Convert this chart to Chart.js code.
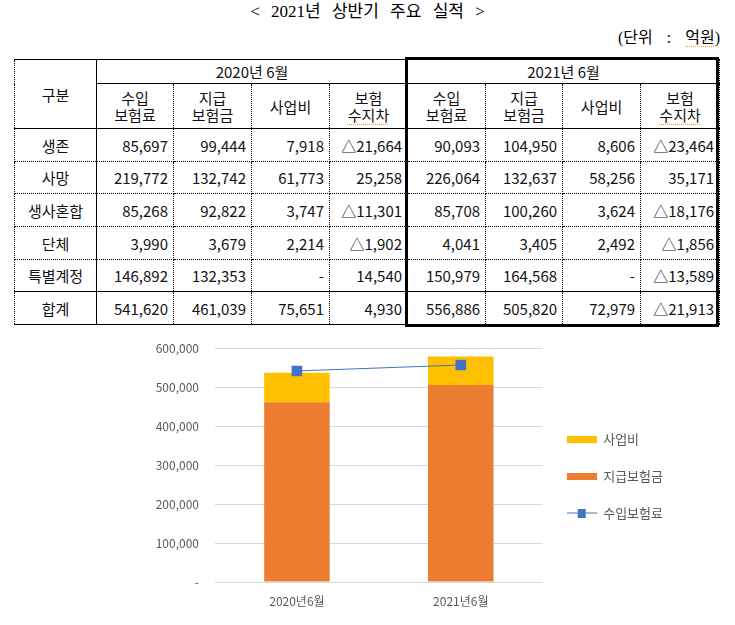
<!DOCTYPE html>
<html><head><meta charset="utf-8">
<script src="https://cdn.jsdelivr.net/npm/chart.js@4/dist/chart.umd.min.js"></script>
<style>
body{margin:0;background:#fff;width:735px;height:625px;position:relative;overflow:hidden;font-family:"Noto Sans CJK KR",sans-serif;color:#000;}
#title{position:absolute;left:0;width:735px;top:0px;text-align:center;font-family:"Liberation Serif","Noto Sans CJK KR",serif;font-size:17px;line-height:24px;word-spacing:7px;}
#unit{position:absolute;right:15px;top:27px;font-size:16px;line-height:22px;word-spacing:10px;font-family:"Liberation Serif","Noto Sans CJK KR",serif;}
.sq1{text-decoration:underline dotted #f09a30;text-decoration-thickness:1px;text-underline-offset:3px;}
.sq2{text-decoration:underline dotted #f09a30;text-decoration-thickness:1px;text-underline-offset:3px;}
#tbl{position:absolute;left:14px;top:59px;border-collapse:collapse;table-layout:fixed;width:705px;font-size:15px;color:#111;}
#tbl td{border:1px dotted #000;padding:0 5px 0 0;text-align:right;white-space:nowrap;overflow:hidden;}
#tbl td.h{text-align:center;padding:0;line-height:17px;}
#tbl td.lab{text-align:center;padding:0;border-right:1px solid #000;}
#tbl tr.hdr1 td{border-bottom:1px solid #000;border-top:1px solid #000;}
#tbl tr.hdr2 td{border-bottom:1px solid #000;}
#tbl tr.total td{border-top:1px solid #000;border-bottom:1px solid #000;}
#tbl td.split{border-left:1px solid #000;}
#box{position:absolute;left:405px;top:57px;width:314px;height:270px;border:3px solid #000;box-sizing:border-box;pointer-events:none;}
#chartWrap{position:absolute;left:130px;top:336px;width:600px;height:278px;}
</style>
</head><body>
<div id="title">&lt; 2021년 상반기 주요 실적 &gt;</div>
<div id="unit">(단위 : <span class="sq1">억원</span>)</div>
<table id="tbl"></table>
<div id="box"></div>
<div id="chartWrap"><canvas id="c" width="600" height="278"></canvas></div>
<script>
// ---- data ----
const rowLabels   = ['생존', '사망', '생사혼합', '단체', '특별계정', '합계'];
const periods     = ['2020년 6월', '2021년 6월'];
const colHeaders  = [['수입', '보험료'], ['지급', '보험금'], ['사업비'], ['보험', '수지차']];
const premium2020 = [85697, 219772, 85268, 3990, 146892, 541620];
const claims2020  = [99444, 132742, 92822, 3679, 132353, 461039];
const expense2020 = [7918, 61773, 3747, 2214, null, 75651];
const balance2020 = [-21664, 25258, -11301, -1902, 14540, 4930];
const premium2021 = [90093, 226064, 85708, 4041, 150979, 556886];
const claims2021  = [104950, 132637, 100260, 3405, 164568, 505820];
const expense2021 = [8606, 58256, 3624, 2492, null, 72979];
const balance2021 = [-23464, 35171, -18176, -1856, -13589, -21913];
const chartCategories = ['2020년6월', '2021년6월'];
const seriesNames = ['지급보험금', '사업비', '수입보험료'];
const yTicks = [0, 100000, 200000, 300000, 400000, 500000, 600000];

// ---- table ----
const fmt = v => v == null ? '-' : (v < 0 ? '△' + Math.abs(v).toLocaleString('en-US') : v.toLocaleString('en-US'));
const colWidths = [82, 77, 78, 78, 78, 78, 77, 78, 79];
const rowHeights = [24, 45, 33, 32, 33, 33, 32, 33];
const tbl = document.getElementById('tbl');
let html = '<colgroup>' + colWidths.map(w => `<col style="width:${w}px">`).join('') + '</colgroup>';
html += `<tr class="hdr1" style="height:${rowHeights[0]}px"><td class="h lab" rowspan="2" style="border-bottom:1px solid #000">구분</td>`;
periods.forEach((p, i) => { html += `<td class="h${i ? ' split' : ''}" colspan="4">${p}</td>`; });
html += '</tr>';
html += `<tr class="hdr2" style="height:${rowHeights[1]}px">`;
periods.forEach((p, pi) => {
  colHeaders.forEach((h, i) => {
    const txt = h.map((t, k) => (i === 3 && k === 1) ? `<span class="sq2">${t}</span>` : t).join('<br>');
    html += `<td class="h${(pi && i === 0) ? ' split' : ''}">${txt}</td>`;
  });
});
html += '</tr>';
const cols = [premium2020, claims2020, expense2020, balance2020, premium2021, claims2021, expense2021, balance2021];
rowLabels.forEach((lab, r) => {
  html += `<tr${lab === '합계' ? ' class="total"' : ''} style="height:${rowHeights[r + 2]}px"><td class="lab">${lab}</td>`;
  cols.forEach((c, ci) => { html += `<td${ci === 4 ? ' class="split"' : ''}>${fmt(c[r])}</td>`; });
  html += '</tr>';
});
tbl.innerHTML = html;

// ---- chart ----
const ti = rowLabels.indexOf('합계');
const claimsTotal  = [claims2020[ti], claims2021[ti]];
const expenseTotal = [expense2020[ti], expense2021[ti]];
const premiumTotal = [premium2020[ti], premium2021[ti]];

function swatchBar(color) {
  const cv = document.createElement('canvas'); cv.width = 30; cv.height = 7;
  const g = cv.getContext('2d'); g.fillStyle = color; g.fillRect(0, 0, 30, 7); return cv;
}
function swatchLine(color) {
  const cv = document.createElement('canvas'); cv.width = 30; cv.height = 9;
  const g = cv.getContext('2d'); g.fillStyle = color; g.fillRect(0, 4, 30, 1); g.fillRect(11, 0, 8, 9); return cv;
}
const swatches = [swatchBar('#ED7D31'), swatchBar('#FFC000'), swatchLine('#4472C4')];
const legendRank = [1, 0, 2];
const FONT = '"Noto Sans CJK KR", sans-serif';

new Chart(document.getElementById('c'), {
  data: {
    labels: chartCategories,
    datasets: [
      { type: 'bar', label: seriesNames[0], data: claimsTotal, backgroundColor: '#ED7D31', stack: 'bars', order: 1, borderWidth: 0 },
      { type: 'bar', label: seriesNames[1], data: expenseTotal, backgroundColor: '#FFC000', stack: 'bars', order: 1, borderWidth: 0 },
      { type: 'line', label: seriesNames[2], data: premiumTotal, borderColor: '#4472C4', borderWidth: 1, stack: 'line', order: 0,
        pointStyle: 'rect', pointRadius: 7.5, pointHoverRadius: 7.5, pointBackgroundColor: '#4472C4', pointBorderColor: '#4472C4', pointBorderWidth: 0 }
    ]
  },
  options: {
    responsive: false, animation: false,
    layout: { padding: { top: 2, right: 57, bottom: 0, left: 0 } },
    datasets: { bar: { categoryPercentage: 1, barPercentage: 0.4 } },
    scales: {
      x: { stacked: true, grid: { display: false }, border: { display: false },
           ticks: { color: '#595959', font: { family: FONT, size: 12 }, padding: 4 },
           afterFit: s => { s.height = 32; } },
      y: { stacked: true, min: 0, max: 600000, border: { display: false },
           grid: { color: '#d9d9d9', lineWidth: 1, drawTicks: true, tickLength: 11, tickColor: 'rgba(0,0,0,0)' },
           afterBuildTicks: s => { s.ticks = yTicks.map(v => ({ value: v })); },
           ticks: { color: '#595959', font: { family: FONT, size: 12 }, padding: 5,
                    callback: v => v === 0 ? '-' : v.toLocaleString('en-US') },
           afterFit: s => { s.width = 85; } }
    },
    plugins: {
      tooltip: { enabled: false },
      legend: {
        position: 'right', align: 'center',
        labels: {
          usePointStyle: true, pointStyleWidth: 30, padding: 24, color: '#595959',
          font: { family: FONT, size: 13 },
          generateLabels: chart => Chart.defaults.plugins.legend.labels.generateLabels(chart)
            .map(it => Object.assign(it, { pointStyle: swatches[it.datasetIndex], fontColor: '#595959' })),
          sort: (a, b) => legendRank[a.datasetIndex] - legendRank[b.datasetIndex]
        }
      }
    }
  }
});
</script>
</body></html>
